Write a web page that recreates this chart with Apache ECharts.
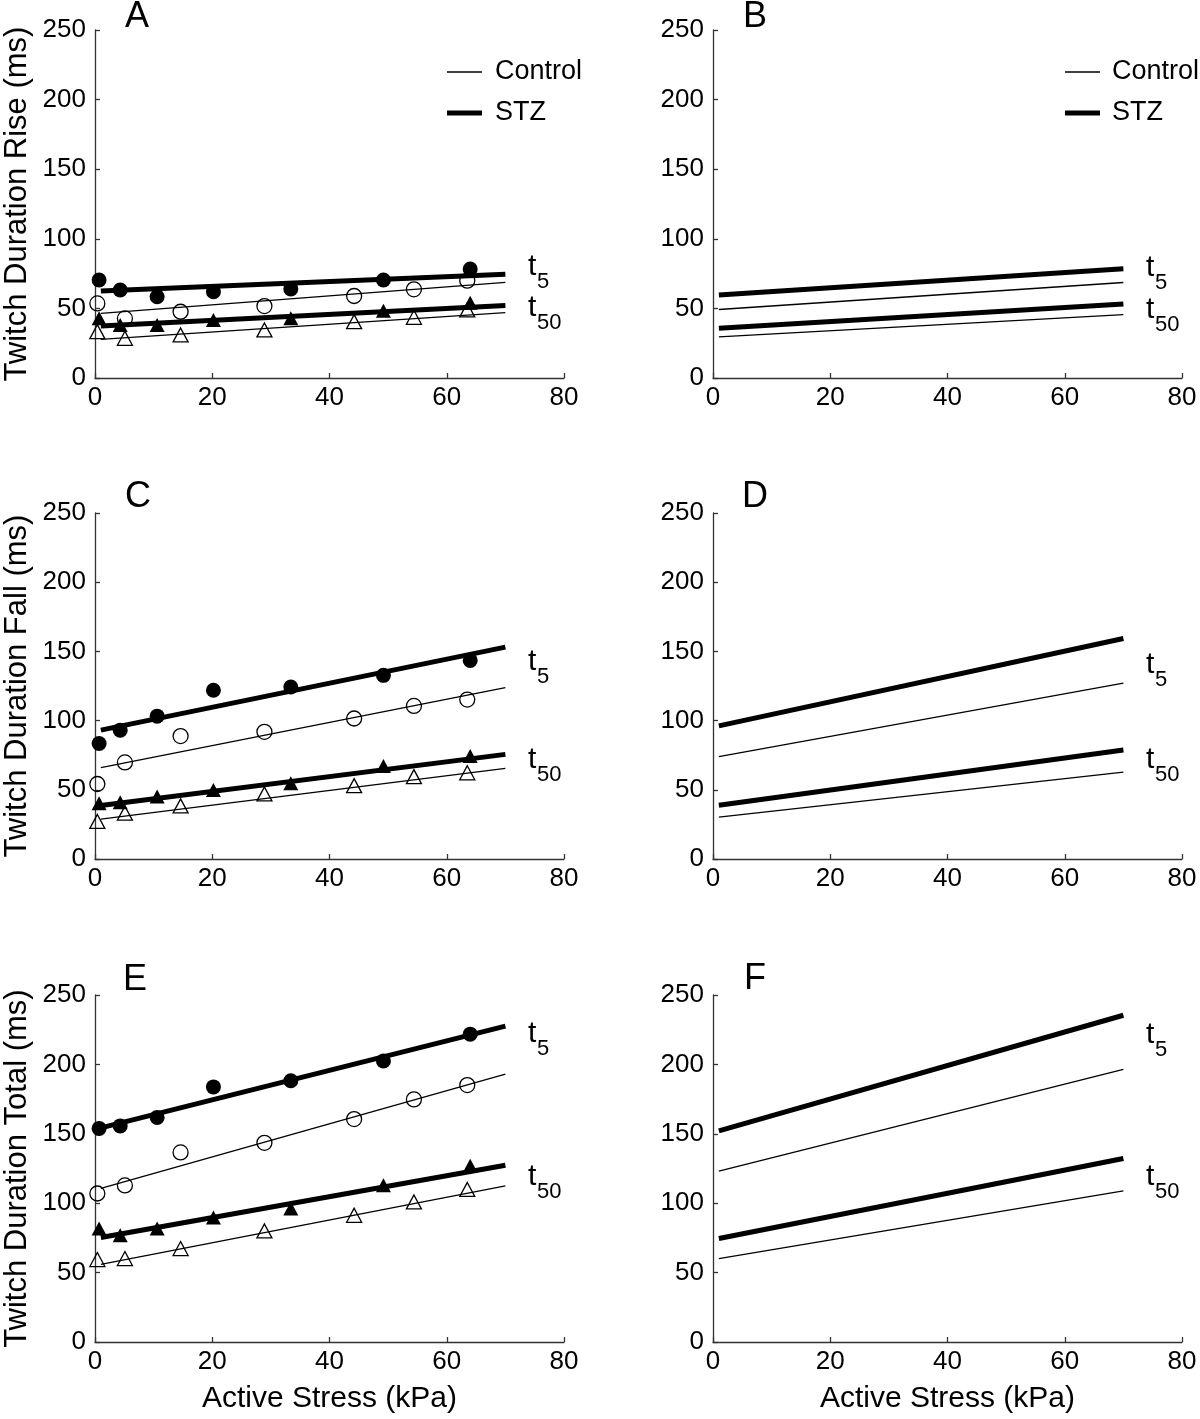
<!DOCTYPE html>
<html>
<head>
<meta charset="utf-8">
<script src="https://cdn.jsdelivr.net/npm/echarts@6/dist/echarts.min.js"></script>
<style>
html,body{margin:0;padding:0;background:#fff}
#chart{width:1200px;height:1419px}
</style>
</head>
<body>
<div id="chart"></div>
<script>
// ---------- tick labels ----------
const xTickLabels = [0, 20, 40, 60, 80];
const yTickLabels = [0, 50, 100, 150, 200, 250];

// ---------- stress values (kPa) ----------
const stressControl = [0.4, 5.1, 14.6, 28.9, 44.2, 54.4, 63.5];
const stressSTZ     = [0.7, 4.3, 10.6, 20.2, 33.4, 49.2, 64.0];
const fitStress     = [1, 70];

// ---------- Panel A: rise (measured) ----------
const riseT5STZ   = [70.4, 63.2, 58.4, 62.0, 64.0, 70.4, 78.3];
const riseT5Ctl   = [53.6, 42.8, 47.6, 51.7, 58.9, 63.7, 69.9];
const riseT50STZ  = [42.9, 38.0, 38.0, 41.7, 42.9, 48.4, 54.0];
const riseT50Ctl  = [33.3, 28.5, 30.9, 34.5, 40.5, 43.6, 48.9];
const riseFitT5STZ  = [62.5, 74.5];
const riseFitT5Ctl  = [46.4, 68.7];
const riseFitT50STZ = [37.4, 52.0];
const riseFitT50Ctl = [27.8, 46.9];

// ---------- Panel C: fall (measured) ----------
const fallT5STZ   = [83.5, 93.1, 103.2, 121.9, 124.3, 132.7, 143.5];
const fallT5Ctl   = [54.2, 69.8, 88.8, 91.9, 101.5, 110.6, 115.2];
const fallT50STZ  = [40.3, 41.0, 45.1, 49.9, 54.7, 67.2, 74.4];
const fallT50Ctl  = [27.1, 33.1, 38.4, 47.0, 53.0, 59.5, 62.3];
const fallFitT5STZ  = [93.1, 153.1];
const fallFitT5Ctl  = [66.0, 123.8];
const fallFitT50STZ = [38.6, 75.6];
const fallFitT50Ctl = [28.8, 65.5];

// ---------- Panel E: total (measured) ----------
const totalT5STZ  = [153.9, 155.7, 161.8, 183.8, 188.2, 202.4, 221.8];
const totalT5Ctl  = [107.0, 112.8, 136.6, 143.5, 160.6, 174.8, 185.1];
const totalT50STZ = [81.8, 76.9, 81.8, 89.7, 96.2, 113.0, 126.9];
const totalT50Ctl = [59.4, 60.1, 67.3, 80.0, 91.3, 100.9, 109.9];
const totalFitT5STZ  = [154.3, 227.6];
const totalFitT5Ctl  = [110.6, 193.0];
const totalFitT50STZ = [75.3, 127.4];
const totalFitT50Ctl = [56.0, 112.5];

// ---------- Panels B, D, F: model ----------
const modelRiseT5STZ   = [59.7, 78.4];
const modelRiseT5Ctl   = [49.2, 68.6];
const modelRiseT50STZ  = [35.7, 53.2];
const modelRiseT50Ctl  = [29.5, 45.6];
const modelFallT5STZ   = [96.2, 159.3];
const modelFallT5Ctl   = [74.0, 127.0];
const modelFallT50STZ  = [38.8, 78.8];
const modelFallT50Ctl  = [30.2, 62.7];
const modelTotalT5STZ  = [152.1, 235.4];
const modelTotalT5Ctl  = [123.1, 196.5];
const modelTotalT50STZ = [74.6, 132.2];
const modelTotalT50Ctl = [60.0, 108.9];

// ---------- text ----------
const panelLetters = ['A', 'B', 'C', 'D', 'E', 'F'];
const yNames = ['Twitch Duration Rise (ms)', 'Twitch Duration Fall (ms)', 'Twitch Duration Total (ms)'];
const xName = 'Active Stress (kPa)';
const legendNames = ['Control', 'STZ'];

// ---------- layout ----------
const FONT = 'Liberation Sans';
const colLeft = [95, 713];
const colWidth = 469;
const rowTop = [30, 513, 995];
const rowHeight = [348, 346, 347];
const AXC = '#333';

const zip = (xs, ys) => xs.map((x, i) => [x, ys[i]]);

const grids = [], xAxes = [], yAxes = [], series = [];
for (let r = 0; r < 3; r++) {
  for (let c = 0; c < 2; c++) {
    const gi = r * 2 + c;
    grids.push({ left: colLeft[c], top: rowTop[r], width: colWidth, height: rowHeight[r], containLabel: false, outerBoundsMode: 'none' });
    xAxes.push({
      gridIndex: gi, type: 'value',
      min: xTickLabels[0], max: xTickLabels[xTickLabels.length - 1], interval: xTickLabels[1] - xTickLabels[0],
      axisLine: { show: true, onZero: false, lineStyle: { color: AXC, width: 1.3 } },
      axisTick: { show: true, inside: true, length: 5, lineStyle: { color: AXC, width: 1.3 } },
      axisLabel: { show: true, fontSize: 26, color: '#000', fontFamily: FONT, margin: 7 },
      splitLine: { show: false },
      name: r === 2 ? xName : '', nameLocation: 'middle', nameGap: 42,
      nameTextStyle: { fontSize: 30, color: '#000', fontFamily: FONT }
    });
    yAxes.push({
      gridIndex: gi, type: 'value',
      min: yTickLabels[0], max: yTickLabels[yTickLabels.length - 1], interval: yTickLabels[1] - yTickLabels[0],
      axisLine: { show: true, onZero: false, lineStyle: { color: AXC, width: 1.3 } },
      axisTick: { show: true, inside: true, length: 5, lineStyle: { color: AXC, width: 1.3 } },
      axisLabel: { show: true, fontSize: 26, color: '#000', fontFamily: FONT, margin: 9 },
      splitLine: { show: false },
      name: c === 0 ? yNames[r] : '', nameLocation: 'middle', nameGap: 62,
      nameTextStyle: { fontSize: 31, color: '#000', fontFamily: FONT }
    });
  }
}

function fitLine(gi, ys, thick) {
  series.push({
    type: 'line', xAxisIndex: gi, yAxisIndex: gi, data: zip(fitStress, ys),
    symbol: 'none', silent: true, z: 2,
    lineStyle: { color: '#000', width: thick ? 5 : 1.3, opacity: 1 }
  });
}
function dots(gi, xs, ys, shape, filled) {
  series.push({
    type: 'scatter', xAxisIndex: gi, yAxisIndex: gi, data: zip(xs, ys),
    symbol: shape, symbolSize: shape === 'triangle' ? [15, 14] : 15, silent: true, z: 3,
    itemStyle: filled
      ? { color: '#000', opacity: 1 }
      : { color: 'rgba(255,255,255,0)', borderColor: '#000', borderWidth: 1.3, opacity: 1 }
  });
}

// A
fitLine(0, riseFitT5Ctl, false); fitLine(0, riseFitT50Ctl, false);
fitLine(0, riseFitT5STZ, true);  fitLine(0, riseFitT50STZ, true);
dots(0, stressControl, riseT5Ctl, 'circle', false);
dots(0, stressControl, riseT50Ctl, 'triangle', false);
dots(0, stressSTZ, riseT5STZ, 'circle', true);
dots(0, stressSTZ, riseT50STZ, 'triangle', true);
// B
fitLine(1, modelRiseT5Ctl, false); fitLine(1, modelRiseT50Ctl, false);
fitLine(1, modelRiseT5STZ, true);  fitLine(1, modelRiseT50STZ, true);
// C
fitLine(2, fallFitT5Ctl, false); fitLine(2, fallFitT50Ctl, false);
fitLine(2, fallFitT5STZ, true);  fitLine(2, fallFitT50STZ, true);
dots(2, stressControl, fallT5Ctl, 'circle', false);
dots(2, stressControl, fallT50Ctl, 'triangle', false);
dots(2, stressSTZ, fallT5STZ, 'circle', true);
dots(2, stressSTZ, fallT50STZ, 'triangle', true);
// D
fitLine(3, modelFallT5Ctl, false); fitLine(3, modelFallT50Ctl, false);
fitLine(3, modelFallT5STZ, true);  fitLine(3, modelFallT50STZ, true);
// E
fitLine(4, totalFitT5Ctl, false); fitLine(4, totalFitT50Ctl, false);
fitLine(4, totalFitT5STZ, true);  fitLine(4, totalFitT50STZ, true);
dots(4, stressControl, totalT5Ctl, 'circle', false);
dots(4, stressControl, totalT50Ctl, 'triangle', false);
dots(4, stressSTZ, totalT5STZ, 'circle', true);
dots(4, stressSTZ, totalT50STZ, 'triangle', true);
// F
fitLine(5, modelTotalT5Ctl, false); fitLine(5, modelTotalT50Ctl, false);
fitLine(5, modelTotalT5STZ, true);  fitLine(5, modelTotalT50STZ, true);

// ---------- graphic annotations ----------
const graphic = [];
const letterPos = [[137, 17], [755, 17], [138, 497], [755, 497], [135, 980], [755, 979]];
panelLetters.forEach((L, i) => {
  graphic.push({ type: 'text', style: { text: L, x: letterPos[i][0], y: letterPos[i][1], align: 'center', verticalAlign: 'middle', font: '36px ' + FONT, fill: '#000' } });
});
// legends in A and B
[[447, 495], [1065, 1112]].forEach(([lx, tx]) => {
  graphic.push({ type: 'line', shape: { x1: lx, y1: 72, x2: lx + 35, y2: 72 }, style: { stroke: '#000', lineWidth: 1.3 } });
  graphic.push({ type: 'text', style: { text: legendNames[0], x: tx, y: 72, verticalAlign: 'middle', font: '27px ' + FONT, fill: '#000' } });
  graphic.push({ type: 'line', shape: { x1: lx, y1: 113, x2: lx + 35, y2: 113 }, style: { stroke: '#000', lineWidth: 5 } });
  graphic.push({ type: 'text', style: { text: legendNames[1], x: tx, y: 113, verticalAlign: 'middle', font: '27px ' + FONT, fill: '#000' } });
});
// t5 / t50 labels
const tLabelY = [[267, 308], [268, 310], [662, 760], [665, 760], [1034, 1177], [1035, 1177]];
tLabelY.forEach((ys, i) => {
  const tx = (i % 2 === 0) ? 528 : 1146;
  ['5', '50'].forEach((sub, k) => {
    graphic.push({ type: 'text', style: { text: 't', x: tx, y: ys[k], verticalAlign: 'middle', font: '30px ' + FONT, fill: '#000' } });
    graphic.push({ type: 'text', style: { text: sub, x: tx + 9, y: ys[k] + 15, verticalAlign: 'middle', font: '22px ' + FONT, fill: '#000' } });
  });
});

const chart = echarts.init(document.getElementById('chart'), null, { renderer: 'canvas' });
chart.setOption({
  animation: false,
  backgroundColor: '#fff',
  textStyle: { fontFamily: FONT },
  grid: grids, xAxis: xAxes, yAxis: yAxes, series: series, graphic: graphic
});
</script>
</body>
</html>
